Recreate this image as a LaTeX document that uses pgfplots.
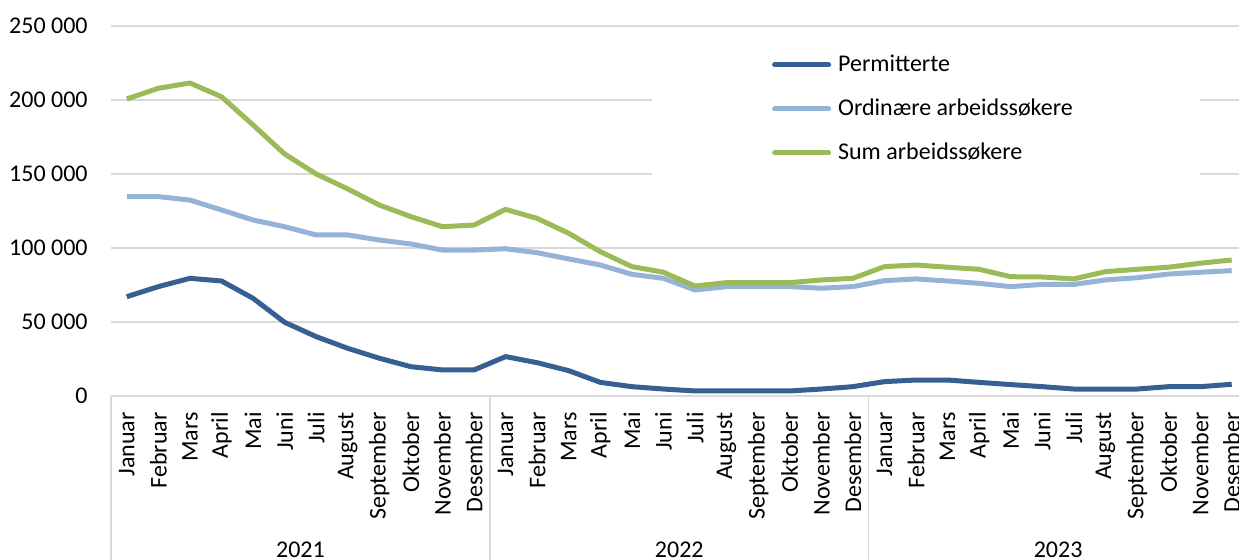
\documentclass[border=0pt]{standalone}
\usepackage{pgfplots}
\pgfplotsset{compat=1.18}
\usepackage{pgfplotstable}
\usepackage{fontspec}
\setmainfont{Carlito}
\definecolor{darkblue}{RGB}{55,96,146}
\definecolor{lightblue}{RGB}{149,179,215}
\definecolor{sumgreen}{RGB}{155,187,89}
\definecolor{gridgray}{RGB}{217,217,217}

\pgfplotstableread{
x perm ord sum
0 67100 134700 200700
1 73900 134700 207900
2 79500 132400 211500
3 77700 125700 202200
4 66000 118900 183100
5 49800 114400 163500
6 40100 108800 150000
7 32200 108800 139900
8 25500 105400 129000
9 19800 102700 121200
10 17600 98600 114400
11 17600 98600 115500
12 26600 99500 126100
13 22500 96800 120000
14 17100 92600 109900
15 9200 88500 97500
16 6300 82200 87400
17 4700 79500 83600
18 3400 71600 74300
19 3400 73900 76600
20 3400 73900 76600
21 3400 73900 76600
22 4700 72800 78400
23 6300 73900 79500
24 9700 77900 87400
25 10800 79100 88500
26 10800 77700 87000
27 9200 76100 85600
28 7700 73900 80600
29 6300 75400 80400
30 4700 75400 79100
31 4700 78400 84000
32 4700 79900 85600
33 6300 82400 87000
34 6300 83600 89700
35 7900 84700 91900
}\datatable

\begin{document}
\begin{tikzpicture}
\useasboundingbox (0,0) rectangle (619.5pt,280pt);
\clip (0,0) rectangle (619.5pt,280pt);
\begin{axis}[
  at={(55.5pt,82pt)}, anchor=south west,
  scale only axis,
  width=568.25pt, height=185pt,
  xmin=-0.5, xmax=35.5,
  ymin=0, ymax=250000,
  scaled y ticks=false,
  clip=false,
  axis line style={draw=none},
  major tick length=0pt,
  ymajorgrids,
  major grid style={color=gridgray, line width=0.75pt},
  ytick={0,50000,100000,150000,200000,250000},
  yticklabels={0,50~000,100~000,150~000,200~000,250~000},
  yticklabel style={anchor=east, inner sep=0pt},
  yticklabel shift=11.5pt,
  xtick={0,...,35},
  xticklabels={Januar,Februar,Mars,April,Mai,Juni,Juli,August,September,Oktober,November,Desember,
               Januar,Februar,Mars,April,Mai,Juni,Juli,August,September,Oktober,November,Desember,
               Januar,Februar,Mars,April,Mai,Juni,Juli,August,September,Oktober,November,Desember},
  xticklabel style={rotate=90, anchor=east, inner sep=0pt},
  xticklabel shift=8pt,
  ticklabel style={font=\fontsize{12}{14}\selectfont, text=black},
  legend style={draw=none, fill=white, at={(0.7171,0.7757)}, anchor=center,
    inner xsep=60pt, inner ysep=6pt, row sep=10.5pt,
    font=\fontsize{12}{14}\selectfont,
    nodes={inner xsep=3.5pt, inner ysep=0pt, text height=9pt, text depth=2.5pt}},
  legend cell align=left,
  legend image code/.code={\draw[#1, line cap=round] (0pt,0pt) -- (27pt,0pt);},
  every axis plot/.append style={line width=2.5pt, line join=round, mark=none},
]
\addplot[darkblue] table[x=x, y=perm] {\datatable};
\addlegendentry{Permitterte}
\addplot[lightblue] table[x=x, y=ord] {\datatable};
\addlegendentry{Ordinære arbeidssøkere}
\addplot[sumgreen] table[x=x, y=sum] {\datatable};
\addlegendentry{Sum arbeidssøkere}

\draw[gridgray, line width=0.75pt] (axis cs:-0.5,0) -- (axis cs:35.5,0);
\draw[gridgray, line width=0.75pt] (axis cs:-0.5,0) -- ++(0pt,-100pt);
\draw[gridgray, line width=0.75pt] (axis cs:11.5,0) -- ++(0pt,-100pt);
\draw[gridgray, line width=0.75pt] (axis cs:23.5,0) -- ++(0pt,-100pt);
\node[anchor=base, font=\fontsize{12}{14}\selectfont, yshift=-81pt] at (axis cs:5.5,0) {2021};
\node[anchor=base, font=\fontsize{12}{14}\selectfont, yshift=-81pt] at (axis cs:17.5,0) {2022};
\node[anchor=base, font=\fontsize{12}{14}\selectfont, yshift=-81pt] at (axis cs:29.5,0) {2023};
\end{axis}
\end{tikzpicture}
\end{document}
